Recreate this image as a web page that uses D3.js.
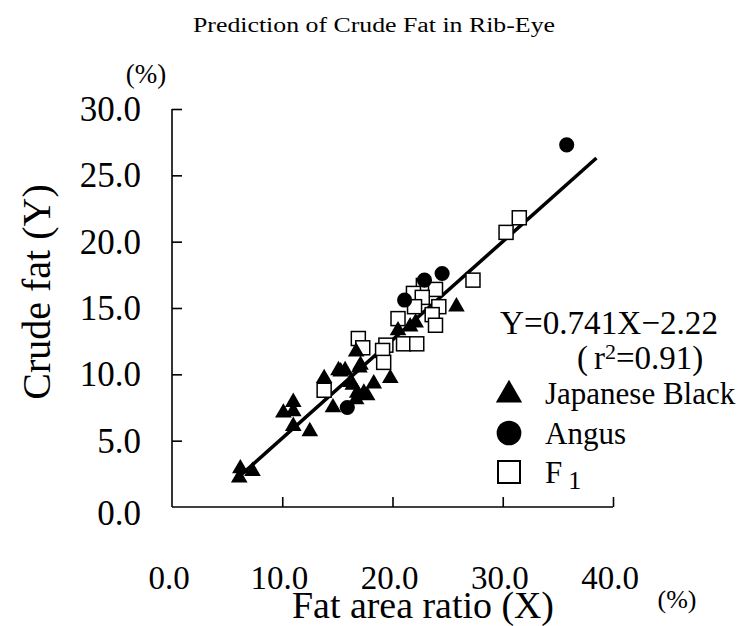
<!DOCTYPE html>
<html>
<head>
<meta charset="utf-8">
<script src="https://cdn.jsdelivr.net/npm/d3@7"></script>
<style>
  body { margin: 0; background: #fff; }
  text { font-family: "Liberation Serif", "DejaVu Serif", serif; fill: #000; }
</style>
</head>
<body>
<div id="chart"></div>
<script>
// data: [fat area ratio %, crude fat %]
const japaneseBlack = [
  [6.1, 2.2], [6.2, 2.9], [7.3, 2.7], [10.1, 7.1], [11.0, 7.9], [11.0, 7.2],
  [11.0, 6.1], [12.5, 5.7], [13.8, 9.7], [14.6, 7.5], [15.1, 10.3], [15.7, 10.3],
  [16.4, 9.2], [16.8, 8.6], [17.7, 8.4], [18.3, 9.3], [19.8, 9.7], [17.0, 10.5],
  [16.7, 11.7], [17.1, 10.7], [16.2, 9.4], [17.4, 8.6], [20.5, 13.3], [22.1, 13.9],
  [25.8, 15.1], [21.6, 13.6], [15.3, 10.2], [16.7, 8.1]
];
const angus = [
  [35.8, 27.3], [24.5, 17.6], [22.9, 17.1], [21.1, 15.6], [15.9, 7.5]
];
const f1 = [
  [31.5, 21.8], [30.3, 20.7], [27.3, 17.1], [22.8, 16.7], [23.9, 16.4], [21.9, 16.1],
  [22.7, 15.8], [22.0, 15.1], [24.2, 15.1], [20.5, 14.2], [23.6, 14.5], [23.9, 13.7],
  [16.9, 12.7], [17.3, 12.0], [19.4, 12.2], [19.1, 11.8], [21.0, 12.3], [22.2, 12.3],
  [19.2, 10.9], [13.8, 8.8]
];
const xTicks = [0, 10, 20, 30, 40];
const yTicks = [0, 5, 10, 15, 20, 25, 30];
const slope = 0.741, intercept = -2.22;
const fitRange = [6.0, 38.5];
const legendItems = ["Japanese Black", "Angus", "F"];

const width = 744, height = 626;

const svg = d3.select("#chart")
  .append("svg")
  .attr("width", width)
  .attr("height", height);

var x = d3.scaleLinear().domain([0, 40]).range([172, 613]);
var y = d3.scaleLinear().domain([0, 30]).range([507, 109]);

// title
svg.append("text")
  .attr("x", 193).attr("y", 32)
  .attr("textLength", 362).attr("lengthAdjust", "spacingAndGlyphs")
  .style("font-size", "20px")
  .text("Prediction of Crude Fat in Rib-Eye");

// axes (ticks point inward)
const xAxis = svg.append("g")
  .attr("transform", "translate(0," + y(0) + ")")
  .call(d3.axisTop(x).tickValues(xTicks.slice(1)).tickSize(10).tickFormat(""));
const yAxis = svg.append("g")
  .attr("transform", "translate(" + x(0) + ",0)")
  .call(d3.axisRight(y).tickValues(yTicks.slice(1)).tickSize(10).tickFormat(""));
svg.selectAll(".tick line").attr("stroke", "#000").attr("stroke-width", 1.6);
// domain paths have end caps, draw plain lines instead
svg.selectAll(".domain").remove();
svg.append("line").attr("x1", x(0)).attr("x2", x(40)).attr("y1", y(0)).attr("y2", y(0))
  .attr("stroke", "#000").attr("stroke-width", 1.6);
svg.append("line").attr("x1", x(0)).attr("x2", x(0)).attr("y1", y(0)).attr("y2", y(30))
  .attr("stroke", "#000").attr("stroke-width", 1.6);

// tick labels
svg.selectAll(".ylab").data(yTicks).enter().append("text")
  .attr("x", 141)
  .attr("y", d => y(d) + 12 + (d === 0 ? 6 : 0))
  .attr("text-anchor", "end")
  .style("font-size", "35px")
  .text(d => d.toFixed(1));
svg.selectAll(".xlab").data(xTicks).enter().append("text")
  .attr("x", d => x(d) - 3)
  .attr("y", 589)
  .attr("text-anchor", "middle")
  .style("font-size", "33px")
  .text(d => d.toFixed(1));

svg.append("text").attr("x", 146).attr("y", 83).attr("text-anchor", "middle")
  .style("font-size", "27px").text("(%)");
svg.append("text").attr("x", 677).attr("y", 608).attr("text-anchor", "middle")
  .style("font-size", "26px").text("(%)");

// axis titles
svg.append("text").attr("x", 292).attr("y", 618)
  .attr("textLength", 262).attr("lengthAdjust", "spacingAndGlyphs")
  .style("font-size", "37px").text("Fat area ratio (X)");
svg.append("text")
  .attr("transform", "translate(50,292) rotate(-90)")
  .attr("text-anchor", "middle")
  .style("font-size", "40px").text("Crude fat (Y)");

// regression line
svg.append("line")
  .attr("x1", x(fitRange[0])).attr("y1", y(slope * fitRange[0] + intercept))
  .attr("x2", x(fitRange[1])).attr("y2", y(slope * fitRange[1] + intercept))
  .attr("stroke", "#000").attr("stroke-width", 3.5);

// points
const tri = d3.symbol().type(d3.symbolTriangle).size(120);
const dot = d3.symbol().type(d3.symbolCircle).size(180);

svg.append("g").selectAll("rect").data(f1).enter().append("rect")
  .attr("x", d => x(d[0]) - 7).attr("y", d => y(d[1]) - 7)
  .attr("width", 14).attr("height", 14)
  .attr("fill", "#fff").attr("stroke", "#000").attr("stroke-width", 1.5);

svg.append("g").selectAll("path").data(japaneseBlack).enter().append("path")
  .attr("d", tri)
  .attr("transform", d => "translate(" + x(d[0]) + "," + y(d[1]) + ")")
  .attr("fill", "#000");

svg.append("g").selectAll("path").data(angus).enter().append("path")
  .attr("d", dot)
  .attr("transform", d => "translate(" + x(d[0]) + "," + y(d[1]) + ")")
  .attr("fill", "#000");

// equation + legend
svg.append("text").attr("x", 500).attr("y", 334)
  .attr("textLength", 218).attr("lengthAdjust", "spacingAndGlyphs")
  .style("font-size", "34px").text("Y=0.741X\u22122.22");
const r2 = svg.append("text").attr("x", 577).attr("y", 369).style("font-size", "33px");
r2.append("tspan").text("(");
r2.append("tspan").attr("dx", 6).text("r");
r2.append("tspan").attr("dy", -10).style("font-size", "22px").text("2");
r2.append("tspan").attr("dy", 10).text("=0.91)");

const legendY = [393, 433, 472];
svg.append("path").attr("d", d3.symbol().type(d3.symbolTriangle).size(300)())
  .attr("transform", "translate(509," + (legendY[0] + 2) + ")").attr("fill", "#000");
svg.append("path").attr("d", d3.symbol().type(d3.symbolCircle).size(480)())
  .attr("transform", "translate(509," + legendY[1] + ")").attr("fill", "#000");
svg.append("rect").attr("x", 498).attr("y", legendY[2] - 11).attr("width", 22).attr("height", 22)
  .attr("fill", "#fff").attr("stroke", "#000").attr("stroke-width", 2);

legendItems.forEach((t, i) => {
  const el = svg.append("text").attr("x", 545).attr("y", legendY[i] + 11)
    .style("font-size", "31px").text(t);
  if (i === 2) {
    el.append("tspan").attr("dx", 6).attr("dy", 6).style("font-size", "26px").text("1");
  }
});
</script>
</body>
</html>
